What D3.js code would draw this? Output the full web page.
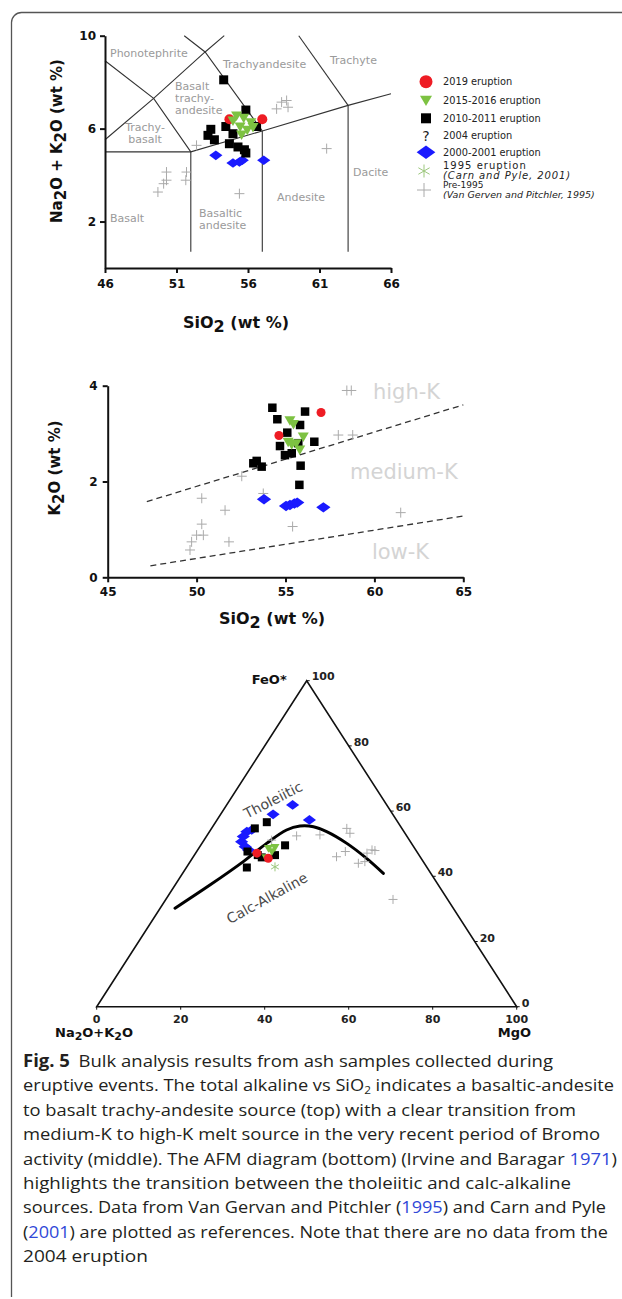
<!DOCTYPE html>
<html><head><meta charset="utf-8">
<script src="https://cdn.jsdelivr.net/npm/d3@7"></script>
<style>body{margin:0;background:#fff}svg{display:block}</style>
</head><body>
<svg id="c" width="622" height="1299"></svg>
<script>
// ================= DATA =================
// TAS diagram [SiO2, Na2O+K2O]
const tas2019 = [[54.7,6.4],[57.0,6.4]];
const tas2015 = [[55.2,6.57],[55.7,6.47],[56.2,6.28],[55.45,6.09],[55.95,5.95],[55.55,5.75],[54.95,6.35],[56.35,6.07]];
const tas2010 = [[54.3,8.1],[55.85,6.8],[53.4,5.97],[53.2,5.71],[53.65,5.52],[54.45,6.09],[54.7,5.35],[55.3,5.21],[55.85,4.95],[55.75,5.09],[56.6,6.09],[54.95,5.78]];
const tas2000 = [[53.75,4.85],[54.95,4.52],[55.4,4.56],[55.6,4.64],[57.1,4.64]];
const tasPre1995 = [[49.7,3.27],[50.1,3.63],[50.3,3.78],[50.3,4.13],[51.7,4.13],[51.65,3.78],[55.4,3.2],[61.5,5.14],[58.0,6.85],[58.35,7.14],[58.7,7.21],[58.8,6.92],[52.4,5.28]];
const tasXTicks = [46,51,56,61,66];
const tasYTicks = [2,6,10];
const tasFieldLines = [
  [[46,5],[52,5],[57,5.9],[63,7],[66,7.5]],
  [[52,0.7],[52,5]],
  [[57,0.7],[57,5.9]],
  [[63,0.7],[63,7]],
  [[46,8.92],[49.4,7.3],[52,5]],
  [[46,5.52],[49.4,7.3],[53,9.3],[54.34,10]],
  [[57,5.9],[53,9.3],[51.54,10]],
  [[63,7],[59.55,10]]
];
const tasFieldNames = ["Phonotephrite","Trachyandesite","Trachyte","Basalt","trachy-","andesite","Trachy-","basalt","Dacite","Andesite","Basaltic","andesite","Basalt"];
const tasFieldAt = [[46.35,9.1],[54.25,8.63],[61.73,8.8],[50.9,7.68],[50.9,7.15],[50.9,6.61],[48.8,5.88],[48.8,5.36],[63.34,3.95],[58.03,2.88],[52.57,2.19],[52.57,1.67],[46.35,1.97]];
const tasFieldAnchor = ["start","start","start","start","start","start","middle","middle","start","start","start","start","start"];

// K2O vs SiO2 [SiO2, K2O]
const k2o2019 = [[57.0,3.44],[54.63,2.96]];
const k2o2015 = [[55.25,3.28],[55.45,3.2],[56.0,2.94],[55.15,2.83],[55.6,2.8],[55.8,2.67],[55.35,2.78]];
const k2o2010 = [[54.26,3.54],[54.54,3.3],[56.1,3.46],[55.82,3.18],[55.1,3.02],[56.62,2.83],[54.69,2.74],[55.72,2.8],[54.97,2.55],[55.35,2.59],[53.19,2.38],[53.38,2.43],[53.66,2.31],[55.85,2.33],[55.78,1.93]];
const k2o2000 = [[53.79,1.63],[55.03,1.49],[55.25,1.51],[55.5,1.54],[55.66,1.56],[57.13,1.46]];
const k2oPre1995 = [[58.45,3.9],[58.7,3.9],[57.97,2.97],[58.78,2.97],[52.54,2.11],[53.75,1.75],[50.29,1.65],[51.6,1.4],[50.29,1.11],[50.0,0.88],[50.38,0.88],[49.72,0.74],[49.63,0.57],[51.82,0.74],[55.4,1.06],[61.48,1.35]];
const k2oXTicks = [45,50,55,60,65];
const k2oYTicks = [0,2,4];
const kSeriesLines = [[[47.2,1.58],[65,3.6]],[[47.4,0.24],[65,1.28]]];
const kSeriesNames = ["high-K","medium-K","low-K"];
const kSeriesAt = [[59.92,3.72],[58.63,2.05],[59.86,0.38]];

// AFM ternary [FeO*, MgO] in %, alkalis = 100 - F - M
const afmCurve = [[30.2,3.55],[37.3,8.3],[44.5,12.65],[50.1,15.4],[54.2,18.1],[55.4,20.7],[55.2,24.0],[53.7,27.9],[50.1,34.5],[45.5,41.5],[40.9,47.8]];
const afm2000 = [[61.9,15.7],[59.0,12.5],[57.3,22.0],[53.7,8.9],[52.2,8.8],[50.6,9.2],[49.1,10.8],[54.2,9.8],[48.1,12.1]];
const afm2010 = [[56.6,12.2],[54.7,10.3],[49.5,20.1],[47.6,12.1],[42.7,14.4],[46.5,19.2],[45.8,16.4],[46.5,15.1]];
const afm2019 = [[47.1,14.6],[45.5,18.1]];
const afm2015 = [[48.6,16.6],[48.9,18.0],[47.6,17.9],[45.8,17.4]];
const afm1995 = [[42.9,21.0]];
const afmPre1995 = [[52.7,26.8],[54.7,32.2],[53.2,33.7],[46.0,34.1],[47.6,35.4],[44.0,40.3],[47.1,40.8],[48.1,41.5],[47.9,42.3],[44.5,41.6],[32.9,54.1],[52.4,21.4],[51.1,16.1]];
const afmTicks = [0,20,40,60,80,100];
const afmFieldNames = ["Tholeiitic","Calc-Alkaline"];
const afmFieldAt = [[63.4,10.3],[33.3,23.9]];

// Legend
const legendNames = [["2019 eruption"],["2015-2016 eruption"],["2010-2011 eruption"],["2004 eruption"],["2000-2001 eruption"],["1995 eruption","(Carn and Pyle, 2001)"],["Pre-1995","(Van Gerven and Pitchler, 1995)"]];
const legendKeys = ["r2019","g2015","b2010","q2004","d2000","a1995","p1995"];

// Caption
const captionLines = [
 [{t:"Fig. 5",b:1},{t:"Bulk analysis results from ash samples collected during",dx:8}],
 [{t:"eruptive events. The total alkaline vs SiO"},{t:"2",sub:1},{t:" indicates a basaltic-andesite",up:1}],
 [{t:"to basalt trachy-andesite source (top) with a clear transition from"}],
 [{t:"medium-K to high-K melt source in the very recent period of Bromo"}],
 [{t:"activity (middle). The AFM diagram (bottom) (Irvine and Baragar "},{t:"1971",link:1},{t:")"}],
 [{t:"highlights the transition between the tholeiitic and calc-alkaline"}],
 [{t:"sources. Data from Van Gervan and Pitchler ("},{t:"1995",link:1},{t:") and Carn and Pyle"}],
 [{t:"("},{t:"2001",link:1},{t:") are plotted as references. Note that there are no data from the"}],
 [{t:"2004 eruption"}]
];
const captionEnds = [553,614,576,600,617,571,606,608,148];

// ================= DRAWING =================
const svg = d3.select("#c");
const FONT = "DejaVu Sans, sans-serif";

// frame
svg.append("path").attr("d","M622,12.5H21.5A10,10 0 0 0 11.5,22.5V1297")
  .attr("fill","none").attr("stroke","#555").attr("stroke-width",1.3);

const STY = {
  r2019:{type:"circle",fill:"#ee1c24"},
  g2015:{type:"tri",fill:"#7dc242"},
  b2010:{type:"square",fill:"#000"},
  d2000:{type:"diamond",fill:"#1a1aff"},
  a1995:{type:"aster",stroke:"#9cc77c"},
  p1995:{type:"plus",stroke:"#aaa"}
};
function symPath(type, s){
  const p = d3.path();
  if(type==="circle"){ p.arc(0,0,s/2,0,2*Math.PI); }
  else if(type==="square"){ p.rect(-s/2,-s/2,s,s); }
  else if(type==="tri"){ p.moveTo(-s/2,-s*0.36); p.lineTo(s/2,-s*0.36); p.lineTo(0,s*0.5); p.closePath(); }
  else if(type==="diamond"){ p.moveTo(-s*0.55,0); p.lineTo(0,-s*0.4); p.lineTo(s*0.55,0); p.lineTo(0,s*0.4); p.closePath(); }
  else if(type==="plus"){ p.moveTo(-s/2,0); p.lineTo(s/2,0); p.moveTo(0,-s/2); p.lineTo(0,s/2); }
  else if(type==="aster"){ for(let k=0;k<3;k++){const a=Math.PI/2+k*Math.PI/3; p.moveTo(-Math.cos(a)*s/2,-Math.sin(a)*s/2); p.lineTo(Math.cos(a)*s/2,Math.sin(a)*s/2);} }
  return p.toString();
}
function drawPts(g, data, key, s, px, py){
  const st = STY[key];
  g.append("g").selectAll("path").data(data).join("path")
    .attr("d", symPath(st.type, s))
    .attr("transform", d=>`translate(${px(d)},${py(d)})`)
    .attr("fill", st.fill||"none")
    .attr("stroke", st.stroke||"none")
    .attr("stroke-width", st.stroke?1:0);
}
function styleAxis(g){
  g.select(".domain").attr("stroke","#111").attr("stroke-width",2);
  g.selectAll(".tick line").attr("stroke","#111").attr("stroke-width",2);
  g.selectAll(".tick text").attr("fill","#111").attr("font-weight","bold").attr("font-size",12).attr("font-family",FONT);
}

// ---------- TAS ----------
{
  const x = d3.scaleLinear([46,66],[105,391]);
  const y = d3.scaleLinear([0,10],[268,35.7]);
  const g = svg.append("g");
  const line = d3.line(d=>x(d[0]), d=>y(d[1]));
  g.selectAll(".fl").data(tasFieldLines).join("path").attr("d",line)
    .attr("fill","none").attr("stroke","#333").attr("stroke-width",1.1);
  g.selectAll(".fn").data(tasFieldNames).join("text")
    .attr("x",(d,i)=>x(tasFieldAt[i][0])).attr("y",(d,i)=>y(tasFieldAt[i][1]))
    .attr("text-anchor",(d,i)=>tasFieldAnchor[i])
    .attr("font-family",FONT).attr("font-size",11).attr("fill","#9a9a9a").text(d=>d);
  const ax = g.append("g").attr("transform","translate(0,268)")
    .call(d3.axisBottom(x).tickValues(tasXTicks).tickFormat(d3.format("d")).tickSize(5).tickSizeOuter(0).tickPadding(6));
  styleAxis(ax);
  const ay = g.append("g").attr("transform","translate(105,0)")
    .call(d3.axisLeft(y).tickValues(tasYTicks).tickFormat(d3.format("d")).tickSize(5).tickSizeOuter(0).tickPadding(4));
  styleAxis(ay);
  const P = [d=>x(d[0]), d=>y(d[1])];
  drawPts(g, tasPre1995, "p1995", 10, ...P);
  drawPts(g, tas2000, "d2000", 12, ...P);
  drawPts(g, tas2010, "b2010", 9, ...P);
  drawPts(g, tas2019, "r2019", 10, ...P);
  drawPts(g, tas2015, "g2015", 11, ...P);
  const t = g.append("text").attr("x",236).attr("y",328).attr("text-anchor","middle")
    .attr("font-family",FONT).attr("font-weight","bold").attr("font-size",16).attr("fill","#111");
  t.append("tspan").text("SiO");
  t.append("tspan").attr("dy",4).text("2");
  t.append("tspan").attr("dy",-4).text(" (wt %)");
  const ty = g.append("text").attr("transform","translate(62,141) rotate(-90)").attr("text-anchor","middle")
    .attr("font-family",FONT).attr("font-weight","bold").attr("font-size",15).attr("fill","#111");
  ty.append("tspan").text("Na");
  ty.append("tspan").attr("dy",4).text("2");
  ty.append("tspan").attr("dy",-4).text("O + K");
  ty.append("tspan").attr("dy",4).text("2");
  ty.append("tspan").attr("dy",-4).text("O (wt %)");
}

// ---------- Legend ----------
{
  const g = svg.append("g");
  const rowsY = [81.7,100,118.3,135.7,152.3,171,190];
  legendKeys.forEach((k,i)=>{
    const cy = rowsY[i];
    if(k==="q2004"){
      g.append("text").attr("x",426).attr("y",cy+5).attr("text-anchor","middle")
        .attr("font-family",FONT).attr("font-size",14).attr("fill","#222").text("?");
    } else {
      const s = {r2019:13,g2015:12,b2010:10,d2000:17,a1995:13,p1995:14}[k];
      drawPts(g,[0],k,s,()=>k==="a1995"||k==="p1995"?424:426,()=>cy);
    }
    const names = legendNames[i];
    if(names.length===1){
      g.append("text").attr("x",443).attr("y",cy+3.5).attr("font-family",FONT).attr("font-size",9.8).attr("fill","#222").text(names[0]);
    } else {
      const big = k==="a1995";
      g.append("text").attr("x",443).attr("y",cy-2).attr("font-family",FONT).attr("font-size",big?10:9)
        .attr("letter-spacing",big?1:0).attr("fill","#222").text(names[0]);
      g.append("text").attr("x",443).attr("y",cy+7.5).attr("font-family",FONT).attr("font-size",big?10:9.5)
        .attr("font-style","italic").attr("letter-spacing",big?0.9:0).attr("fill","#222").text(names[1]);
    }
  });
}

// ---------- K2O ----------
{
  const x = d3.scaleLinear([45,65],[107.7,463.3]);
  const y = d3.scaleLinear([0,4],[577.3,385.7]);
  const g = svg.append("g");
  const line = d3.line(d=>x(d[0]), d=>y(d[1]));
  g.selectAll(".kl").data(kSeriesLines).join("path").attr("d",line)
    .attr("fill","none").attr("stroke","#333").attr("stroke-width",1.3).attr("stroke-dasharray","6,4");
  g.selectAll(".kn").data(kSeriesNames).join("text")
    .attr("x",(d,i)=>x(kSeriesAt[i][0])).attr("y",(d,i)=>y(kSeriesAt[i][1]))
    .attr("font-family",FONT).attr("font-size",21).attr("fill","#d4d4d4").text(d=>d);
  const ax = g.append("g").attr("transform","translate(0,577.3)")
    .call(d3.axisBottom(x).tickValues(k2oXTicks).tickFormat(d3.format("d")).tickSize(5).tickSizeOuter(0).tickPadding(5));
  styleAxis(ax);
  const ay = g.append("g").attr("transform","translate(107.7,0)")
    .call(d3.axisLeft(y).tickValues(k2oYTicks).tickFormat(d3.format("d")).tickSize(5).tickSizeOuter(0).tickPadding(5));
  styleAxis(ay);
  const P = [d=>x(d[0]), d=>y(d[1])];
  drawPts(g, k2oPre1995, "p1995", 10, ...P);
  drawPts(g, k2o2000, "d2000", 13, ...P);
  drawPts(g, k2o2010, "b2010", 8.5, ...P);
  drawPts(g, k2o2015, "g2015", 11, ...P);
  drawPts(g, k2o2019, "r2019", 9, ...P);
  const t = g.append("text").attr("x",272).attr("y",624).attr("text-anchor","middle")
    .attr("font-family",FONT).attr("font-weight","bold").attr("font-size",16).attr("fill","#111");
  t.append("tspan").text("SiO");
  t.append("tspan").attr("dy",4).text("2");
  t.append("tspan").attr("dy",-4).text(" (wt %)");
  const ty = g.append("text").attr("transform","translate(60,468) rotate(-90)").attr("text-anchor","middle")
    .attr("font-family",FONT).attr("font-weight","bold").attr("font-size",15).attr("fill","#111");
  ty.append("tspan").text("K");
  ty.append("tspan").attr("dy",4).text("2");
  ty.append("tspan").attr("dy",-4).text("O (wt %)");
}

// ---------- AFM ternary ----------
{
  const X0 = 96.7;
  const tw = d3.scaleLinear([0,100],[0,420]);
  const ty = d3.scaleLinear([0,100],[1006.7,680.7]);
  const px = d => X0 + tw(d[1]) + tw(d[0])/2;   // d = [F, M]
  const py = d => ty(d[0]);
  const g = svg.append("g");
  const tri = [[0,0],[0,100],[100,0]];
  g.append("path").attr("d", d3.line(px,py)(tri)+"Z").attr("fill","none").attr("stroke","#111").attr("stroke-width",1.6);
  g.selectAll(".bt").data(afmTicks).join("line")
    .attr("x1",d=>px([0,d])).attr("x2",d=>px([0,d])).attr("y1",ty(0)).attr("y2",ty(0)+3)
    .attr("stroke","#111").attr("stroke-width",1);
  g.selectAll(".bl").data(afmTicks).join("text")
    .attr("x",d=>px([0,d])).attr("y",ty(0)+16).attr("text-anchor","middle")
    .attr("font-family",FONT).attr("font-weight","bold").attr("font-size",11).attr("fill","#222").text(d=>d);
  g.selectAll(".rt").data(afmTicks).join("line")
    .attr("x1",d=>px([d,100-d])).attr("x2",d=>px([d,100-d])+3).attr("y1",d=>py([d,100-d])).attr("y2",d=>py([d,100-d]))
    .attr("stroke","#111").attr("stroke-width",1);
  g.selectAll(".rl").data(afmTicks).join("text")
    .attr("x",d=>px([d,100-d])+5).attr("y",d=>py([d,100-d])-(d===100?1:0))
    .attr("font-family",FONT).attr("font-weight","bold").attr("font-size",11).attr("fill","#222").text(d=>d);
  g.append("path").attr("d", d3.line(px,py).curve(d3.curveCatmullRom)(afmCurve))
    .attr("fill","none").attr("stroke","#000").attr("stroke-width",3).attr("stroke-linecap","round");
  g.selectAll(".an").data(afmFieldNames).join("text")
    .attr("transform",(d,i)=>`translate(${px(afmFieldAt[i])},${py(afmFieldAt[i])}) rotate(${i===0?-27:-29})`)
    .attr("text-anchor","middle").attr("dy","0.35em")
    .attr("font-family",FONT).attr("font-size",14).attr("fill","#4a4a4a").text(d=>d);
  drawPts(g, afmPre1995, "p1995", 9, px, py);
  drawPts(g, afm2000, "d2000", 12, px, py);
  drawPts(g, afm2010, "b2010", 8, px, py);
  drawPts(g, afm1995, "a1995", 9, px, py);
  drawPts(g, afm2015, "g2015", 9, px, py);
  drawPts(g, afm2019, "r2019", 9, px, py);
  g.append("text").attr("x",px([100,0])-20).attr("y",py([100,0])+3).attr("text-anchor","end")
    .attr("font-family",FONT).attr("font-weight","bold").attr("font-size",13).attr("fill","#111").text("FeO*");
  const tl = g.append("text").attr("x",55).attr("y",1037)
    .attr("font-family",FONT).attr("font-weight","bold").attr("font-size",13).attr("fill","#111");
  tl.append("tspan").text("Na");
  tl.append("tspan").attr("dy",3).attr("font-size",11).text("2");
  tl.append("tspan").attr("dy",-3).text("O+K");
  tl.append("tspan").attr("dy",3).attr("font-size",11).text("2");
  tl.append("tspan").attr("dy",-3).text("O");
  g.append("text").attr("x",531).attr("y",1037).attr("text-anchor","end")
    .attr("font-family",FONT).attr("font-weight","bold").attr("font-size",13).attr("fill","#111").text("MgO");
}

// ---------- Caption ----------
{
  const g = svg.append("g");
  const base = d3.scaleLinear([0,8],[1067,1262]);
  captionLines.forEach((segs,i)=>{
    const t = g.append("text").attr("x",23).attr("y",base(i))
      .attr("font-family","Open Sans, sans-serif").attr("font-size",17).attr("fill","#231f20")
      .attr("textLength",captionEnds[i]-23).attr("lengthAdjust","spacingAndGlyphs");
    segs.forEach(s=>{
      const sp = t.append("tspan").text(s.t);
      if(s.b) sp.attr("font-weight","bold");
      if(s.dx) sp.attr("dx",s.dx);
      if(s.link) sp.attr("fill","#3048d8");
      if(s.sub) sp.attr("dy",3).attr("font-size",11);
      if(s.up) sp.attr("dy",-3);
    });
  });
}
</script>
</body></html>
